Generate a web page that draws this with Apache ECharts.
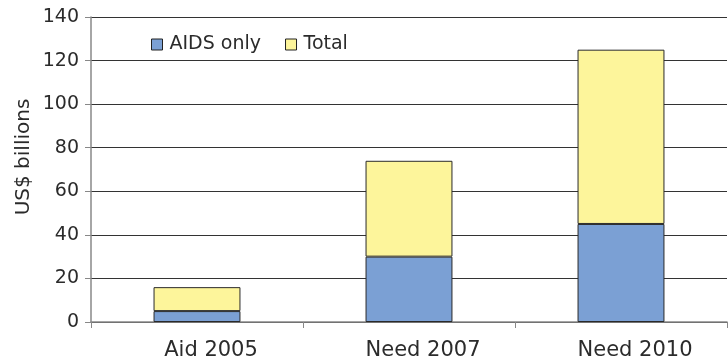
<!DOCTYPE html>
<html>
<head>
<meta charset="utf-8">
<script src="https://cdn.jsdelivr.net/npm/echarts@6/dist/echarts.min.js"></script>
<style>
  html, body { margin: 0; padding: 0; background: #fff; }
  #chart { width: 728px; height: 362px; }
</style>
</head>
<body>
<div id="chart"></div>
<script>
// values, US$ billions
const categories = ['Aid 2005', 'Need 2007', 'Need 2010']
const aidsOnly = [5, 30, 45]
const totals = [16, 74, 125]
// yellow part stacked on top of the blue one (total minus AIDS only)
const restOfTotal = [11, 44, 80]

const chart = echarts.init(document.getElementById('chart'), null, { renderer: 'canvas' })

const fontName = 'DejaVu Sans'
const textColor = '#2b2b2b'

chart.setOption({
  animation: false,
  grid: { left: 91, right: 1, top: 17, bottom: 40 },
  legend: {
    left: 146,
    top: 30,
    itemWidth: 11,
    itemHeight: 11,
    itemGap: 24,
    textStyle: { fontFamily: fontName, fontSize: 19, color: textColor, padding: [0, 0, 0, 2] },
    data: [
      { name: 'AIDS only', icon: 'rect', itemStyle: { borderColor: '#222', borderWidth: 1 } },
      { name: 'Total', icon: 'rect', itemStyle: { borderColor: '#222', borderWidth: 1 } }
    ]
  },
  // axis title, drawn by hand so it sits a little above the middle like the original
  graphic: [{
    type: 'text',
    x: 24,
    y: 157,
    rotation: Math.PI / 2,
    style: {
      text: 'US$ billions',
      fontFamily: fontName,
      fontSize: 20,
      fill: textColor,
      align: 'center',
      verticalAlign: 'middle'
    }
  }],
  xAxis: {
    type: 'category',
    data: categories,
    axisLine: { lineStyle: { color: '#888', width: 1.5 } },
    axisTick: { show: true, length: 6, lineStyle: { color: '#888' } },
    axisLabel: { margin: 18, fontFamily: fontName, fontSize: 21, color: textColor, padding: [0, 0, 0, 28] }
  },
  yAxis: {
    type: 'value',
    min: 0,
    max: 140,
    interval: 20,
    axisLine: { show: true, lineStyle: { color: '#888', width: 1.5 } },
    axisTick: { show: true, length: 6, lineStyle: { color: '#888' } },
    axisLabel: { margin: 12, fontFamily: fontName, fontSize: 19, color: textColor },
    splitLine: { lineStyle: { color: '#333', width: 1 } }
  },
  series: [
    {
      name: 'AIDS only',
      type: 'bar',
      stack: 'cost',
      barWidth: '41%',
      data: aidsOnly,
      itemStyle: { color: '#7ba0d4', borderColor: '#2a2a2a', borderWidth: 1 }
    },
    {
      name: 'Total',
      type: 'bar',
      stack: 'cost',
      barWidth: '41%',
      data: restOfTotal,
      itemStyle: { color: '#fdf59b', borderColor: '#2a2a2a', borderWidth: 1 }
    }
  ]
})
</script>
</body>
</html>
